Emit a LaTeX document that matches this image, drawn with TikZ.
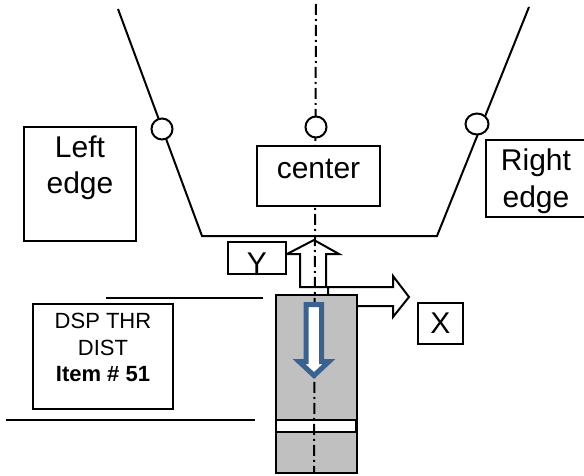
\documentclass[tikz,border=0pt]{standalone}
\usepackage{amsmath}
\usepackage{xcolor}
\usepackage{fontspec}
\setmainfont{Liberation Sans}
\usetikzlibrary{shapes.geometric}
\definecolor{arrowblue}{HTML}{3A6291}
\definecolor{blockgray}{HTML}{C0C0C0}
\tikzset{
  labelbox/.style={draw,line width=2pt,fill=white,align=center,inner sep=0pt,font=\fontsize{30}{36}\selectfont},
  pivot/.style={draw,ellipse,line width=2pt,fill=white,minimum width=21pt,minimum height=21pt,inner sep=0pt},
  edgeline/.style={line width=2pt},
  centerline/.style={line width=2pt,dash pattern=on 11pt off 4pt on 2pt off 4pt},
}
\begin{document}
\begin{tikzpicture}[x=1pt,y=-1pt]
\useasboundingbox (0,0) rectangle (584,476);
\coordinate (topleft) at (118,9);
\coordinate (bottomleft) at (202,236);
\coordinate (bottomright) at (437,236);
\coordinate (topright) at (529,7);
\coordinate (centertop) at (316,4);
\coordinate (centerbottom) at (314,473);
\draw[edgeline] (topleft)--(bottomleft)--(bottomright)--(topright);
\draw[edgeline,fill=white] (328,295)--(328,287)--(393,287)--(393,276)--(409,297)--(393,317)--(393,306)--(357,306)--cycle;
\draw[edgeline,fill=blockgray] (276,295) rectangle (357,473);
\draw[edgeline,fill=white] (276,420) rectangle (356,432);
\draw[edgeline,fill=white] (300,287)--(300,254)--(287,254)--(314,240)--(339,254)--(326,254)--(326,287)--cycle;
\draw[centerline] (centertop)--(centerbottom);
\draw[line width=5pt,arrowblue,fill=white,line join=miter] (306,304.5)--(321.5,304.5)--(321.5,361.5)--(329,361.5)--(314,375.5)--(299,361.5)--(306,361.5)--cycle;
\node[pivot] (leftpivot) at (162,129) {};
\node[pivot] (centerpivot) at (316,127) {};
\node[pivot,minimum width=23pt] (rightpivot) at (477,124) {};
\node[labelbox,minimum width=112pt,minimum height=114pt,anchor=north west,text depth=38pt] (leftedge) at (23,126) {Left\\edge};
\node[labelbox,minimum width=123pt,minimum height=60pt,text depth=14pt] (center) at (318.5,176) {center};
\node[labelbox,minimum width=100pt,minimum height=77pt,anchor=north west,text depth=1.5pt,font=\fontsize{30}{37}\selectfont] (rightedge) at (485,139) {Right\\edge};
\node[labelbox,minimum width=58pt,minimum height=31pt,text height=32pt] (ylabel) at (257,257.5) {Y};
\node[labelbox,minimum width=45pt,minimum height=41pt] (xlabel) at (440.5,323.5) {X};
\node[draw,line width=2pt,fill=white,align=center,inner sep=0pt,minimum width=140pt,minimum height=105pt,text depth=18pt,font=\fontsize{22}{26.5}\selectfont] (dspbox) at (103,356.5) {DSP THR\\DIST\\\textbf{Item \# 51}};
\coordinate (upperleft) at (106,298);
\coordinate (upperright) at (263,298);
\coordinate (lowerleft) at (6,420);
\coordinate (lowerright) at (255,420);
\draw[edgeline] (upperleft)--(upperright);
\draw[edgeline] (lowerleft)--(lowerright);
\end{tikzpicture}
\end{document}
